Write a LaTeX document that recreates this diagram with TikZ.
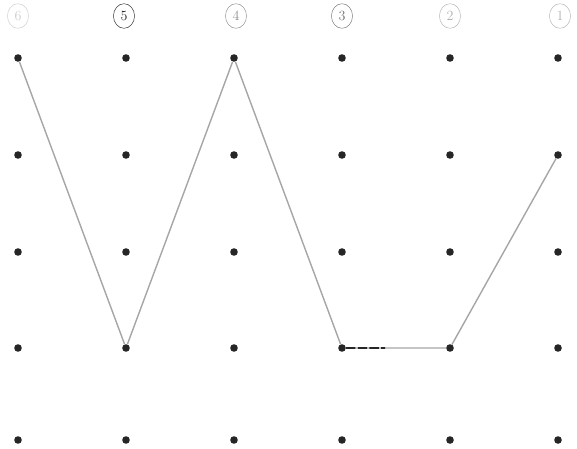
\documentclass[tikz,border=0pt]{standalone}
\usepackage{tikz}
\usetikzlibrary{calc,shapes.geometric}

\begin{document}
\begin{tikzpicture}[x=0.03cm, y=-0.03cm,
	dot/.style={circle, fill=black!85, inner sep=0pt, minimum size=6.5pt},
	num/.style={ellipse, draw, thin, inner sep=1pt, minimum width=18pt, minimum height=21pt, font=\large},
	stroke/.style={black!35, line width=1.2pt}]
	\useasboundingbox (0,0) rectangle (577,449);
	% grid of dots, columns 6..1 from left to right
	\foreach \c/\x in {1/18, 2/126, 3/234, 4/342, 5/450, 6/558} {
		\foreach \r/\y in {1/58, 2/155, 3/252, 4/348, 5/440} {
			\node[dot] (d-\c-\r) at (\x,\y) {};
		}
	}
	% circled column numbers
	\foreach \c/\x/\n/\col in {1/18/6/black!20, 2/124/5/black!85, 3/236/4/black!45, 4/342/3/black!55, 5/450/2/black!30, 6/560/1/black!30} {
		\node[num, draw=\col, text=\col] (n-\c) at (\x,16) {\n};
	}
	\draw[stroke] (d-1-1) -- (d-2-4) -- (d-3-1) -- (d-4-4);
	\draw[stroke] (d-4-4) -- (d-5-4) -- (d-6-2);
	\draw[black!85, line width=1.3pt, dash pattern=on 8pt off 2pt] (d-4-4) -- ($(d-4-4)!0.4!(d-5-4)$);
\end{tikzpicture}
\end{document}
